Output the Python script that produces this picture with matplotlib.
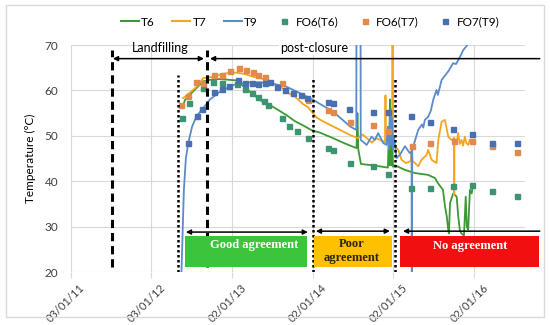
import numpy as np
import pandas as pd
import matplotlib
matplotlib.use("Agg")
import matplotlib.pyplot as plt
import matplotlib.dates as mdates
import matplotlib.transforms as mtransforms
from matplotlib.lines import Line2D
from matplotlib.patches import Rectangle

plt.rcParams['font.family'] = ['Lato', 'DejaVu Sans']

START = pd.Timestamp('2011-01-03')

# ===== DATA (days since 03/01/11, temperature in deg C) =====
t6_day = [508, 517, 558, 600, 639, 675, 751, 788, 824, 865, 901, 938, 978, 1015,
          1051, 1091, 1128, 1186, 1241, 1293, 1297, 1301, 1313, 1367, 1435, 1440,
          1442, 1444, 1446, 1449, 1451, 1453, 1458, 1467, 1512, 1557, 1616, 1648,
          1661, 1684, 1693, 1701, 1708, 1711, 1716, 1730, 1746, 1753, 1761, 1768,
          1779, 1787, 1792, 1798, 1806, 1814, 1819]
t6_val = [56.5, 57.9, 60.0, 62.0, 62.4, 62.5, 62.2, 60.6, 59.2, 57.6, 56.8, 55.7,
          54.5, 53.2, 52.3, 51.2, 50.7, 49.5, 48.3, 47.3, 55.0, 47.0, 43.8, 43.5,
          43.0, 52.0, 43.5, 58.0, 44.0, 56.0, 43.5, 50.0, 43.2, 43.5, 42.5, 41.8,
          41.4, 40.7, 39.6, 38.1, 34.5, 32.3, 29.3, 28.5, 35.2, 37.3, 36.6, 32.3,
          29.0, 28.5, 28.0, 36.6, 30.0, 29.3, 38.1, 37.3, 39.0]

t7_day = [508, 517, 570, 600, 645, 684, 720, 752, 788, 826, 865, 901, 938, 978,
          1015, 1051, 1073, 1113, 1137, 1186, 1263, 1299, 1320, 1339, 1363, 1381,
          1399, 1422, 1424, 1426, 1444, 1455, 1456, 1457, 1482, 1497, 1517, 1539,
          1542, 1546, 1557, 1572, 1587, 1610, 1617, 1633, 1655, 1663, 1678, 1693,
          1708, 1723, 1734, 1735, 1736, 1745, 1753, 1760, 1768, 1775, 1783, 1790,
          1798, 1806, 1814, 1819]
t7_val = [58.3, 58.6, 60.8, 62.7, 63.0, 63.6, 63.9, 63.9, 63.6, 63.0, 62.6, 61.6,
          61.2, 59.6, 58.6, 57.0, 56.3, 54.0, 53.3, 52.1, 50.2, 49.5, 50.3, 49.5,
          48.5, 49.5, 49.1, 48.6, 58.9, 48.5, 48.4, 48.2, 80.0, 48.0, 46.9, 44.7,
          44.0, 44.5, 47.7, 44.5, 44.0, 43.3, 44.7, 45.8, 46.9, 44.7, 44.0, 49.1,
          53.1, 53.5, 49.8, 49.1, 49.5, 37.0, 49.5, 48.3, 50.6, 48.2, 49.1, 47.8,
          49.8, 48.4, 48.0, 49.2, 48.7, 48.5]

t9_day = [500, 506, 512, 521, 532, 549, 570, 600, 630, 675, 735, 796, 856, 901,
          977, 1037, 1097, 1188, 1263, 1292, 1293, 1311, 1312, 1339, 1361, 1376,
          1391, 1414, 1429, 1435, 1440, 1444, 1449, 1453, 1458, 1462, 1474, 1489,
          1512, 1534, 1542, 1543, 1545, 1550, 1572, 1589, 1595, 1602, 1617, 1629,
          1640, 1655, 1661, 1678, 1708, 1730, 1743, 1761, 1776, 1798, 1815]
t9_val = [18.0, 28.0, 38.0, 45.0, 48.4, 52.0, 54.4, 56.1, 58.0, 59.7, 61.2, 61.7,
          61.8, 61.6, 60.8, 59.4, 57.9, 55.3, 52.1, 51.3, 85.0, 85.0, 49.1, 48.0,
          49.8, 49.1, 50.6, 48.4, 48.0, 52.0, 47.0, 55.6, 48.0, 54.0, 47.0, 50.0,
          45.1, 45.8, 47.7, 46.2, 46.5, 10.0, 46.8, 47.7, 51.3, 52.5, 51.8, 53.5,
          54.2, 55.5, 57.9, 60.1, 59.0, 62.3, 64.2, 66.0, 65.8, 67.4, 68.9, 70.2,
          72.0]

fo6_t6_day = [502, 536, 597, 645, 683, 751, 788, 820, 847, 874, 892, 954, 987,
              1025, 1072, 1165, 1188, 1263, 1368, 1436, 1539, 1625, 1730, 1816,
              1904, 2017]
fo6_t6_val = [54.0, 57.2, 60.5, 61.9, 61.7, 61.4, 60.3, 59.4, 58.6, 57.7, 56.8,
              54.0, 52.2, 51.1, 49.6, 47.4, 46.9, 44.0, 43.3, 41.6, 38.5, 38.5,
              38.9, 39.2, 37.9, 36.7]

fo6_t7_day = [499, 532, 567, 600, 649, 683, 720, 761, 793, 826, 849, 879, 954,
              1075, 1165, 1188, 1263, 1366, 1437, 1542, 1625, 1734, 1814, 1904,
              2017]
fo6_t7_val = [56.8, 58.8, 61.8, 61.6, 63.3, 63.4, 64.3, 64.9, 64.5, 64.1, 63.3,
              63.0, 61.6, 57.9, 55.7, 55.3, 53.1, 52.4, 51.1, 47.8, 48.5, 48.9,
              48.8, 47.7, 46.4]

fo7_t9_day = [532, 570, 595, 649, 683, 717, 758, 788, 819, 847, 879, 901, 932,
              969, 1007, 1040, 1067, 1165, 1188, 1260, 1366, 1437, 1539, 1625,
              1730, 1816, 1904, 2017]
fo7_t9_val = [48.4, 54.4, 56.0, 59.6, 60.3, 61.0, 62.2, 61.7, 61.7, 61.5, 61.6,
              61.8, 60.8, 60.0, 59.5, 59.0, 58.4, 57.5, 57.2, 55.9, 55.3, 55.3,
              54.4, 53.1, 51.5, 50.4, 48.5, 48.4]

tick_days = [0, 365, 730, 1095, 1460, 1825]


def to_date(days):
    return START + pd.to_timedelta(np.asarray(days, dtype=float), unit='D')


# ===== FIGURE =====
fig = plt.figure(figsize=(5.5, 3.25), dpi=100)
ax = fig.add_axes([0.1285, 0.163, 0.826, 0.6985])

c_t6, c_t7, c_t9 = '#3C9A35', '#F5A51E', '#5B8BCB'
c_f6, c_f7, c_f9 = '#3D9470', '#E4894C', '#4A6FAE'

ax.plot(to_date(t6_day), t6_val, color=c_t6, lw=1.3, zorder=3)
ax.plot(to_date(t7_day), t7_val, color=c_t7, lw=1.3, zorder=3)
ax.plot(to_date(t9_day), t9_val, color=c_t9, lw=1.3, zorder=3)
ax.plot(to_date(fo6_t6_day), fo6_t6_val, ls='none', marker='s', ms=3.6, color=c_f6, zorder=4)
ax.plot(to_date(fo6_t7_day), fo6_t7_val, ls='none', marker='s', ms=3.6, color=c_f7, zorder=4)
ax.plot(to_date(fo7_t9_day), fo7_t9_val, ls='none', marker='s', ms=3.6, color=c_f9, zorder=4)

ax.set_xlim(to_date([0])[0], to_date([2055])[0])
ax.set_ylim(20, 70)
ax.set_yticks(range(20, 71, 10))
ax.set_xticks(to_date(tick_days))
ax.xaxis.set_major_formatter(mdates.DateFormatter('%d/%m/%y'))
ax.tick_params(axis='x', length=4, color='#D9D9D9', labelsize=8, pad=2,
               labelcolor='#404040')
ax.tick_params(axis='y', length=0, labelsize=8.5, pad=9, labelcolor='#404040')
shift = mtransforms.ScaledTranslation(6 / 72, -1 / 72, fig.dpi_scale_trans)
for lab in ax.get_xticklabels():
    lab.set_rotation(45)
    lab.set_ha('right')
    lab.set_rotation_mode('anchor')
    lab.set_transform(lab.get_transform() + shift)
ax.grid(True, color='#D9D9D9', lw=0.8)
ax.set_axisbelow(True)
for s in ax.spines.values():
    s.set_visible(False)
ax.set_ylabel('Temperature (°C)', fontsize=8.5, labelpad=6)


def d(x):
    return to_date([x])[0]


# phase markers
for x in [187, 616]:
    ax.plot([d(x), d(x)], [21, 68.9], color='black', lw=2.2,
            ls=(0, (2.7, 1.6)), zorder=5)
for x, top in [(485, 63.5), (1096, 63.0), (1467, 63.0)]:
    ax.plot([d(x), d(x)], [20, top], color='black', lw=1.8,
            ls=(0, (1, 1)), zorder=5)

arrow = dict(color='black', lw=1.1, shrinkA=0, shrinkB=0, mutation_scale=7)
ax.annotate('', xy=(d(603), 67.0), xytext=(d(191), 67.0),
            arrowprops=dict(arrowstyle='<|-|>', **arrow), zorder=6)
ax.annotate('', xy=(d(630), 67.0), xytext=(d(2122), 67.0),
            arrowprops=dict(arrowstyle='-|>', **arrow), annotation_clip=False, zorder=6)
ax.text(d(404), 69.3, 'Landfilling', ha='center', va='center', fontsize=9)
ax.text(d(1100), 69.3, 'post-closure', ha='center', va='center', fontsize=9,
        bbox=dict(facecolor='white', edgecolor='none', pad=0.5))

ax.annotate('', xy=(d(521), 28.8), xytext=(d(1073), 28.8),
            arrowprops=dict(arrowstyle='<|-|>', **arrow), zorder=6)
ax.annotate('', xy=(d(1109), 29.0), xytext=(d(1444), 29.0),
            arrowprops=dict(arrowstyle='<|-|>', **arrow), zorder=6)
ax.annotate('', xy=(d(1503), 29.0), xytext=(d(2122), 29.0),
            arrowprops=dict(arrowstyle='-|>', **arrow), annotation_clip=False, zorder=6)

boxes = [(517, 1069, '#3CC43C'), (1100, 1453, '#FFC000'), (1489, 2118, '#F20F0F')]
for x0, x1, col in boxes:
    r = Rectangle((mdates.date2num(d(x0)), 21.2),
                  mdates.date2num(d(x1)) - mdates.date2num(d(x0)), 6.8,
                  facecolor=col, edgecolor='none', zorder=6, clip_on=False)
    ax.add_patch(r)

serif = ['Liberation Serif', 'DejaVu Serif']
ax.text(d(831), 26.0, 'Good agreement', ha='center', va='center', fontsize=9,
        color='white', fontweight='bold', family=serif, zorder=7)
ax.text(d(1272), 24.6, 'Poor\nagreement', ha='center', va='center', fontsize=9,
        color='#2A2410', fontweight='bold', family=serif, zorder=7, linespacing=1.15)
ax.text(d(1806), 25.8, 'No agreement', ha='center', va='center', fontsize=9,
        color='white', fontweight='bold', family=serif, zorder=7)

# legend
handles = [Line2D([], [], color=c_t6, lw=1.5),
           Line2D([], [], color=c_t7, lw=1.5),
           Line2D([], [], color=c_t9, lw=1.5),
           Line2D([], [], ls='none', marker='s', ms=3.6, color=c_f6),
           Line2D([], [], ls='none', marker='s', ms=3.6, color=c_f7),
           Line2D([], [], ls='none', marker='s', ms=3.6, color=c_f9)]
labels = ['T6', 'T7', 'T9', 'FO6(T6)', 'FO6(T7)', 'FO7(T9)']
fig.legend(handles, labels, ncol=6, loc='center', bbox_to_anchor=(0.564, 0.932),
           frameon=False, fontsize=8.5, handlelength=1.5, handletextpad=0.2,
           columnspacing=1.5)

# chart border
fig.patches.append(Rectangle((6 / 550, 1 - 317 / 325), 538 / 550, 312 / 325,
                             transform=fig.transFigure, fill=False,
                             edgecolor='#D9D9D9', lw=1))

fig.savefig('out.png', dpi=100)
